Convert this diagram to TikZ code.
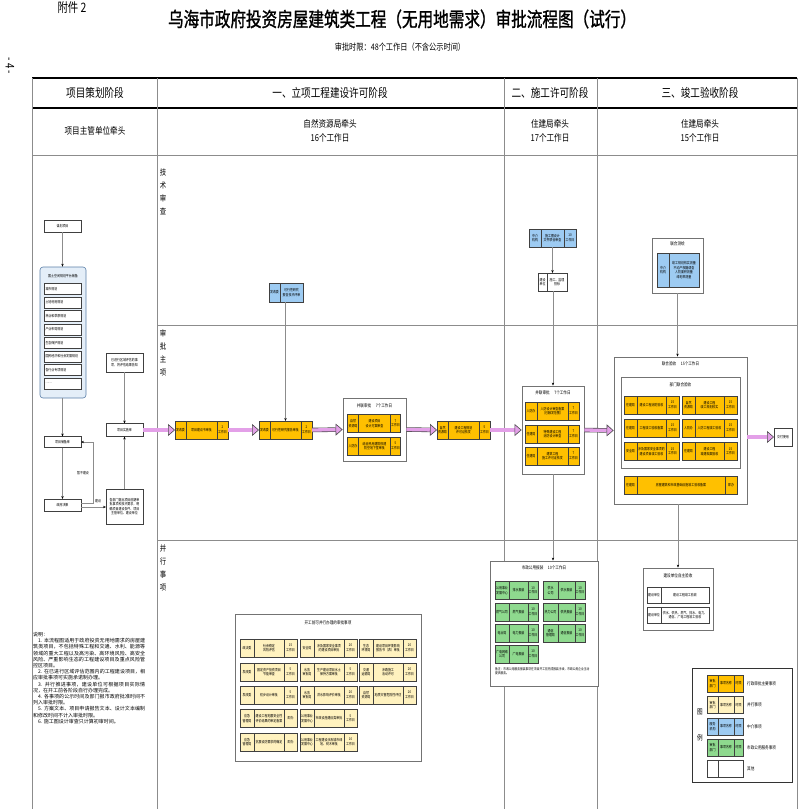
\documentclass[tikz,border=0pt]{standalone}
\usepackage{fontspec}
\setmainfont[FakeStretch=0.8]{Noto Sans CJK SC}
\newfontfamily\titlefont[FakeStretch=0.78,FakeBold=1.2]{Noto Sans CJK SC}
\newfontfamily\plainfont{Noto Sans CJK SC}
\usepackage{tikz}
\usetikzlibrary{positioning,arrows.meta,calc}
\XeTeXlinebreaklocale "zh"
\XeTeXlinebreakskip=0pt plus 0.5pt
\definecolor{MainGold}{HTML}{FFC000}
\definecolor{ParCream}{HTML}{FFF2BF}
\definecolor{AgBlue}{HTML}{9DCBF2}
\definecolor{PubGreen}{HTML}{8ED98E}
\definecolor{ArrPink}{HTML}{E3A0E8}
\definecolor{PlanBlue}{HTML}{E4EEF8}
\definecolor{PlanEdge}{HTML}{5B7FA8}
\definecolor{LineGrey}{HTML}{8C8C8C}

\newcommand{\bx}{\fontsize{3.7}{4.5}\selectfont}
\newcommand{\setw}[4]{\def\wa{#1}\def\wb{#2}\def\wc{#3}\def\hh{#4}}
% three-part box: dept | item | time
\newcommand{\tribox}[6]{%
  \node[#1, minimum width=\wa pt, minimum height=\hh pt, anchor=west] (#2d) at (#3) {#4};
  \node[#1, minimum width=\wb pt, minimum height=\hh pt, anchor=west] (#2n) at (#2d.east) {#5};
  \node[#1, minimum width=\wc pt, minimum height=\hh pt, anchor=west] (#2t) at (#2n.east) {#6};}
% two-part box
\newcommand{\bibox}[5]{%
  \node[#1, minimum width=\wa pt, minimum height=\hh pt, anchor=west] (#2l) at (#3) {#4};
  \node[#1, minimum width=\wb pt, minimum height=\hh pt, anchor=west] (#2r) at (#2l.east) {#5};}

\tikzset{
  cell/.style={draw=black!75, line width=0.4pt, inner sep=0pt, outer sep=0pt, align=center, font=\bx},
  mainc/.style={cell, fill=MainGold},
  parc/.style={cell, fill=ParCream},
  agc/.style={cell, fill=AgBlue},
  pubc/.style={cell, fill=PubGreen},
  plainc/.style={cell, fill=white},
  boxframe/.style={draw=black!55, line width=0.8pt, fill=white, inner sep=0pt},
  ttl/.style={font=\fontsize{4.5}{5.5}\selectfont, inner sep=0pt},
  lbl/.style={font=\fontsize{4.5}{5.5}\selectfont, inner sep=0pt},
  conn/.style={draw=black!45, line width=0.7pt, -{Stealth[length=3pt,width=2.4pt,color=black]}},
  fatarr/.style={draw=black!70, double=ArrPink, double distance=3.3pt, line width=0.6pt,
    -{Triangle[length=7pt,width=12pt,fill=ArrPink]}},
  rowlab/.style={font=\fontsize{8}{13}\selectfont, align=center, inner sep=0pt},
}

\begin{document}
\begin{tikzpicture}[x=1pt,y=-1pt]
\useasboundingbox (0,0) rectangle (800,809);

% heading
\node[font=\fontsize{13}{13}\selectfont] (fj) at (72,8) {附件 2};
\node[font=\titlefont\fontsize{20}{22}\selectfont] (title) at (402,19)
  {乌海市政府投资房屋建筑类工程（无用地需求）审批流程图（试行）};
\node[font=\fontsize{9}{10}\selectfont] (limit) at (400,47) {审批时限：48个工作日（不含公示时间）};
\node[font=\fontsize{12}{12}\selectfont, rotate=-90] (pg) at (10,66) {- 4 -};

% table frame
\draw[line width=2pt] (32,78) -- (797,78);
\draw[line width=1.5pt] (32,108) -- (797,108);
\draw[line width=0.6pt, LineGrey] (32,155) -- (797,155);
\foreach \xx in {32,157,504,597,797}
  \draw[line width=0.8pt, LineGrey] (\xx,78) -- (\xx,809);
\draw[line width=0.8pt, LineGrey] (157,325) -- (797,325);
\draw[line width=0.8pt, LineGrey] (157,540) -- (797,540);

\node[font=\fontsize{12}{12}\selectfont] at (95,93) {项目策划阶段};
\node[font=\fontsize{12}{12}\selectfont] at (330,93) {一、立项工程建设许可阶段};
\node[font=\fontsize{12}{12}\selectfont] at (550,93) {二、施工许可阶段};
\node[font=\fontsize{12}{12}\selectfont] at (700,93) {三、竣工验收阶段};
\node[font=\fontsize{9.5}{14}\selectfont] at (95,131) {项目主管单位牵头};
\node[font=\fontsize{9.5}{14}\selectfont, align=center] at (330,131) {自然资源局牵头\\16个工作日};
\node[font=\fontsize{9.5}{14}\selectfont, align=center] at (550,131) {住建局牵头\\17个工作日};
\node[font=\fontsize{9.5}{14}\selectfont, align=center] at (700,131) {住建局牵头\\15个工作日};

\node[rowlab] at (163,192) {技\\术\\审\\查};
\node[rowlab] at (163,353) {审\\批\\主\\项};
\node[rowlab] at (163,568) {并\\行\\事\\项};

% project planning column
\node[plainc, minimum width=37pt, minimum height=12pt] (mx) at (62.5,226) {谋划项目};
\node[draw=PlanEdge, fill=PlanBlue, rounded corners=3pt, line width=0.6pt,
      minimum width=46pt, minimum height=131pt] (gt) at (63,332.5) {};
\node[font=\bx] at (63,276) {国土空间规划平台储备};
\foreach \t [count=\i] in {城市规划,土地利用规划,林业和草原规划,产业布局规划,生态保护规划,国民经济和社会发展规划,各行业专项规划,……}
  \node[plainc, minimum width=37pt, minimum height=11pt, text width=34pt, align=left]
    (gi\i) at (62.5,{275.5+13.5*\i}) {\t};
\node[plainc, minimum width=37pt, minimum height=11pt] (ck) at (62.5,442) {项目储备库};
\node[plainc, minimum width=37pt, minimum height=12pt] (zf) at (62.5,505) {政府决策};
\node[plainc, minimum width=37pt, minimum height=19pt] (qy) at (124.5,362.5) {已进行区域评估的事\\项，将评估结果告知};
\node[plainc, minimum width=37pt, minimum height=13pt] (ss) at (124.5,430) {项目实施库};
\node[plainc, minimum width=37pt, minimum height=35pt] (bm) at (124.5,506.5)
  {各部门提出项目前期审\\批事项和技术要求，明\\确项目建设条件、项目\\主管单位、建设单位};

\draw[conn] (mx.south) -- (mx.south |- gt.north);
\draw[conn] (gt.south -| ck.north) -- (ck.north);
\draw[conn] (ck.south) -- (zf.north);
\draw[conn] ([yshift=1.5pt]zf.east) -- ++(12,0) |- (ck.east);
\node[font=\bx] at (83,473) {暂不建设};
\draw[conn] ([yshift=-2pt]zf.east) -- ([yshift=-2pt]zf.east -| bm.west);
\node[font=\bx] at (98,501) {建设};
\draw[conn] (bm.north) -- (ss.south);
\draw[conn] (qy.south) -- (ss.north);

% stage one
\setw{11}{31}{11}{18}
\tribox{mainc}{b1}{175,430}{发改委}{项目建议书审批}{2\\工作日}
\tribox{mainc}{b2}{259,430}{发改委}{可行性研究报告审批}{2\\工作日}
\setw{11}{23}{0}{19}
\bibox{agc}{fg}{269,292.5}{发改委}{可行性研究\\报告技术评审}
\draw[conn] (b2n.north |- fgr.south) -- (b2n.north);

\node[boxframe, minimum width=63pt, minimum height=63pt] (pl1) at (374.5,429.5) {};
\node[ttl, below=6pt of pl1.north] {并联审批\quad 7个工作日};
\setw{11}{32}{10}{18}
\tribox{mainc}{p1}{347.5,423.5}{自然\\资源局}{建设项目\\设计方案审查}{7\\工作日}
\tribox{mainc}{p2}{347.5,446}{人防办}{结合民用建筑修建\\防空地下室审批}{5\\工作日}
\setw{11}{31}{11}{18}
\tribox{mainc}{b4}{437,430}{自然\\资源局}{建设工程规划\\许可证核发}{5\\工作日}

\draw[fatarr] (ss.east) -- (b1d.west);
\draw[fatarr] (b1t.east) -- (b2d.west);
\draw[fatarr] (b2t.east) -- (pl1.west);
\draw[fatarr] (pl1.east) -- (b4d.west);

% stage two
\setw{12}{23}{12}{18}
\tribox{agc}{st}{529,238}{中介\\机构}{施工图设计\\文件联合审查}{10\\工作日}
\setw{9}{20}{0}{18}
\bibox{plainc}{zb}{538,282}{建设\\单位}{施工、监理\\招标}
\node[boxframe, minimum width=62pt, minimum height=88pt] (sg) at (553,430) {};
\node[ttl, below=5pt of sg.north] {并联审批\quad 7个工作日};
\setw{12}{31}{11}{18}
\tribox{mainc}{s1}{525,411}{人防办}{人防设计审查备案\\（已触发范围）}{7\\工作日}
\tribox{mainc}{s2}{525,434}{住建局}{特殊建设工程\\消防设计审查}{7\\工作日}
\tribox{mainc}{s3}{525,456}{住建局}{建筑工程\\施工许可证核发}{7\\工作日}

\node[boxframe, minimum width=108pt, minimum height=125pt] (sz) at (544,623.5) {};
\node[ttl, below=5pt of sz.north] {市政公用报装\quad 10个工作日};
\setw{14}{19}{10}{18}
\tribox{pubc}{g1}{495,590.5}{公用事业\\发展中心}{排水报装}{10\\工作日}
\tribox{pubc}{g3}{495,612}{燃气公司}{燃气报装}{10\\工作日}
\tribox{pubc}{g5}{495,633}{电业局}{电力报装}{10\\工作日}
\tribox{pubc}{g7}{495,654}{广电网络\\公司}{广电报装}{10\\工作日}
\setw{15}{17}{10}{18}
\tribox{pubc}{g2}{543,590.5}{供水\\公司}{供水报装}{10\\工作日}
\tribox{pubc}{g4}{543,612}{热力公司}{供热报装}{10\\工作日}
\tribox{pubc}{g6}{543,633}{通信\\管理局}{通信报装}{10\\工作日}
\node[font=\fontsize{3.4}{4.6}\selectfont, text width=95pt, align=left, anchor=north west, inner sep=0pt]
  (bz) at (495,667) {备注：市政公用服务报装事项在项目开工前完成报装手续，市政公用企业主动提供服务。};

\draw[conn] (stn.south) -- (stn.south |- zbl.north);
\draw[conn] (sg.north |- zbl.south) -- (sg.north);
\draw[conn] (sg.south) -- (sg.south |- sz.north);
\draw[fatarr] (b4t.east) -- (sg.west);

% stage three
\node[boxframe, minimum width=51pt, minimum height=55pt] (ch) at (677.5,265.5) {};
\node[ttl, below=4pt of ch.north] {联合测绘};
\setw{12}{30}{0}{34}
\bibox{agc}{cm}{657,270}{中介\\机构}{竣工规划核实测量\\不动产权籍调查\\人防面积测量\\绿地率测量}

\node[boxframe, minimum width=133pt, minimum height=147pt] (ys) at (680.5,430.5) {};
\node[ttl, below=5pt of ys.north] {联合验收\quad 15个工作日};
\node[boxframe, minimum width=119pt, minimum height=91pt] (bmy) at (680.5,422.5) {};
\node[ttl, below=6pt of bmy.north] {部门联合验收};
\setw{13}{29}{13}{18}
\tribox{mainc}{y1}{624,405}{住建局}{建设工程消防验收}{15\\工作日}
\tribox{mainc}{y2}{682,405}{自然\\资源局}{建设工程\\竣工规划核实}{15\\工作日}
\tribox{mainc}{y3}{624,428}{住建局}{工程竣工验收备案}{15\\工作日}
\tribox{mainc}{y4}{682,428}{人防办}{人防工程竣工验收}{15\\工作日}
\tribox{mainc}{y5}{624,451.5}{安全局}{涉及国家安全事项的\\建设项目竣工验收}{15\\工作日}
\tribox{mainc}{y6}{682,451.5}{住建局}{建设工程\\城建档案验收}{15\\工作日}
\setw{13}{88}{12}{18}
\tribox{mainc}{y7}{624,485}{住建局}{房屋建筑和市政基础设施竣工验收备案}{即办}
\node[plainc, minimum width=18pt, minimum height=18pt] (jf) at (783,437) {交付使用};

\node[boxframe, minimum width=70pt, minimum height=62pt] (zz) at (678,599) {};
\node[ttl, below=6pt of zz.north] {建设单位自主验收};
\setw{14}{48}{0}{16}
\bibox{plainc}{z1}{647,595}{建设单位}{建设工程竣工验收}
\bibox{plainc}{z2}{647,615}{建设单位}{供水、供热、燃气、排水、电力、\\通信、广电工程竣工验收}

\draw[fatarr] (sg.east) -- (ys.west);
\draw[fatarr] (ys.east |- jf.west) -- (jf.west);
\draw[conn] (ch.south) -- (ch.south |- ys.north);
\draw[conn] (ys.south -| zz.north) -- (zz.north);

% parallel items
\node[boxframe, minimum width=186pt, minimum height=147pt] (bx) at (328,687.5) {};
\node[ttl, below=7pt of bx.north] {开工前可并行办理的审批事项};
\setw{14}{30}{13}{18}
\tribox{parc}{x1}{240,648}{政法委}{社会稳定\\风险评估}{15\\工作日}
\tribox{parc}{x2}{240,672}{发改委}{固定资产投资项目\\节能审查}{5\\工作日}
\tribox{parc}{x3}{240,695}{发改委}{初步设计审批}{5\\工作日}
\tribox{parc}{x4}{240,718.5}{应急\\管理局}{建设工程地震安全性\\评价结果的审定备案}{即办}
\tribox{parc}{x5}{240,742}{应急\\管理局}{抗震设防要求的确定}{即办}
\tribox{parc}{x6}{300,648}{安全局}{涉及国家安全事项\\的建设项目审批}{20\\工作日}
\tribox{parc}{x7}{300,672}{水务\\审批局}{生产建设项目水土\\保持方案审批}{5\\工作日}
\tribox{parc}{x8}{300,695}{水务\\审批局}{洪水影响评价审批}{20\\工作日}
\tribox{parc}{x9}{300,718.5}{公用事业\\发展中心}{市政设施建设类审批}{5\\工作日}
\tribox{parc}{x10}{300,742}{公用事业\\发展中心}{工程建设涉及城市绿\\地、树木审批}{10\\工作日}
\tribox{parc}{x11}{359,648}{生态\\环境局}{建设项目环境影响\\报告书（表）审批}{20\\工作日}
\tribox{parc}{x12}{359,672}{交通\\运输局}{涉路施工\\活动许可}{20\\工作日}
\tribox{parc}{x13}{359,695}{自然\\资源局}{地质灾害危险性评估}{20\\工作日}

% notes
\node[font=\plainfont\fontsize{5}{6.2}\selectfont, text width=112pt, align=justify, anchor=north west, inner sep=0pt]
  (sm) at (33,632) {说明：\\
  \hspace*{1em}1. 本流程图适用于政府投资无用地需求的房屋建筑类项目，不包括特殊工程和交通、水利、能源等领域的重大工程以及高污染、高环境风险、高安全风险、严重影响生态的工程建设项目及重点风险管控区项目。\\
  \hspace*{1em}2. 在已进行区域评估范围内的工程建设项目，相应审批事项可实施承诺制办理。\\
  \hspace*{1em}3. 并行推进事项，建设单位可根据项目实际情况，在开工前各阶段自行办理完成。\\
  \hspace*{1em}4. 各事项的公示时间及部门报市政府批准时间不列入审批时限。\\
  \hspace*{1em}5. 方案文本、项目申请报告文本、设计文本编制和修改时间不计入审批时限。\\
  \hspace*{1em}6. 施工图设计审查只计算初审时间。};

% legend
\node[boxframe, draw=black!80, minimum width=100pt, minimum height=114pt] (lg) at (742,725) {};
\node[font=\fontsize{7}{7}\selectfont] at (700,712) {图};
\node[font=\fontsize{7}{7}\selectfont] at (700,738) {例};
\setw{11}{16}{9}{17}
\tribox{mainc}{l1}{707,683.5}{审批\\部门}{事项名称}{时限}
\tribox{parc}{l2}{707,705}{审批\\部门}{事项名称}{时限}
\tribox{agc}{l3}{707,726.5}{服务\\机构}{事项名称}{时限}
\tribox{pubc}{l4}{707,747.5}{审批\\部门}{事项名称}{时限}
\setw{11}{25}{0}{17}
\bibox{plainc}{l5}{707,768.5}{}{}
\node[lbl, right=4pt of l1t] {行政审批主要事项};
\node[lbl, right=4pt of l2t] {并行事项};
\node[lbl, right=4pt of l3t] {中介事项};
\node[lbl, right=4pt of l4t] {市政公用服务事项};
\node[lbl, right=4pt of l5r] {其他};
\end{tikzpicture}
\end{document}
